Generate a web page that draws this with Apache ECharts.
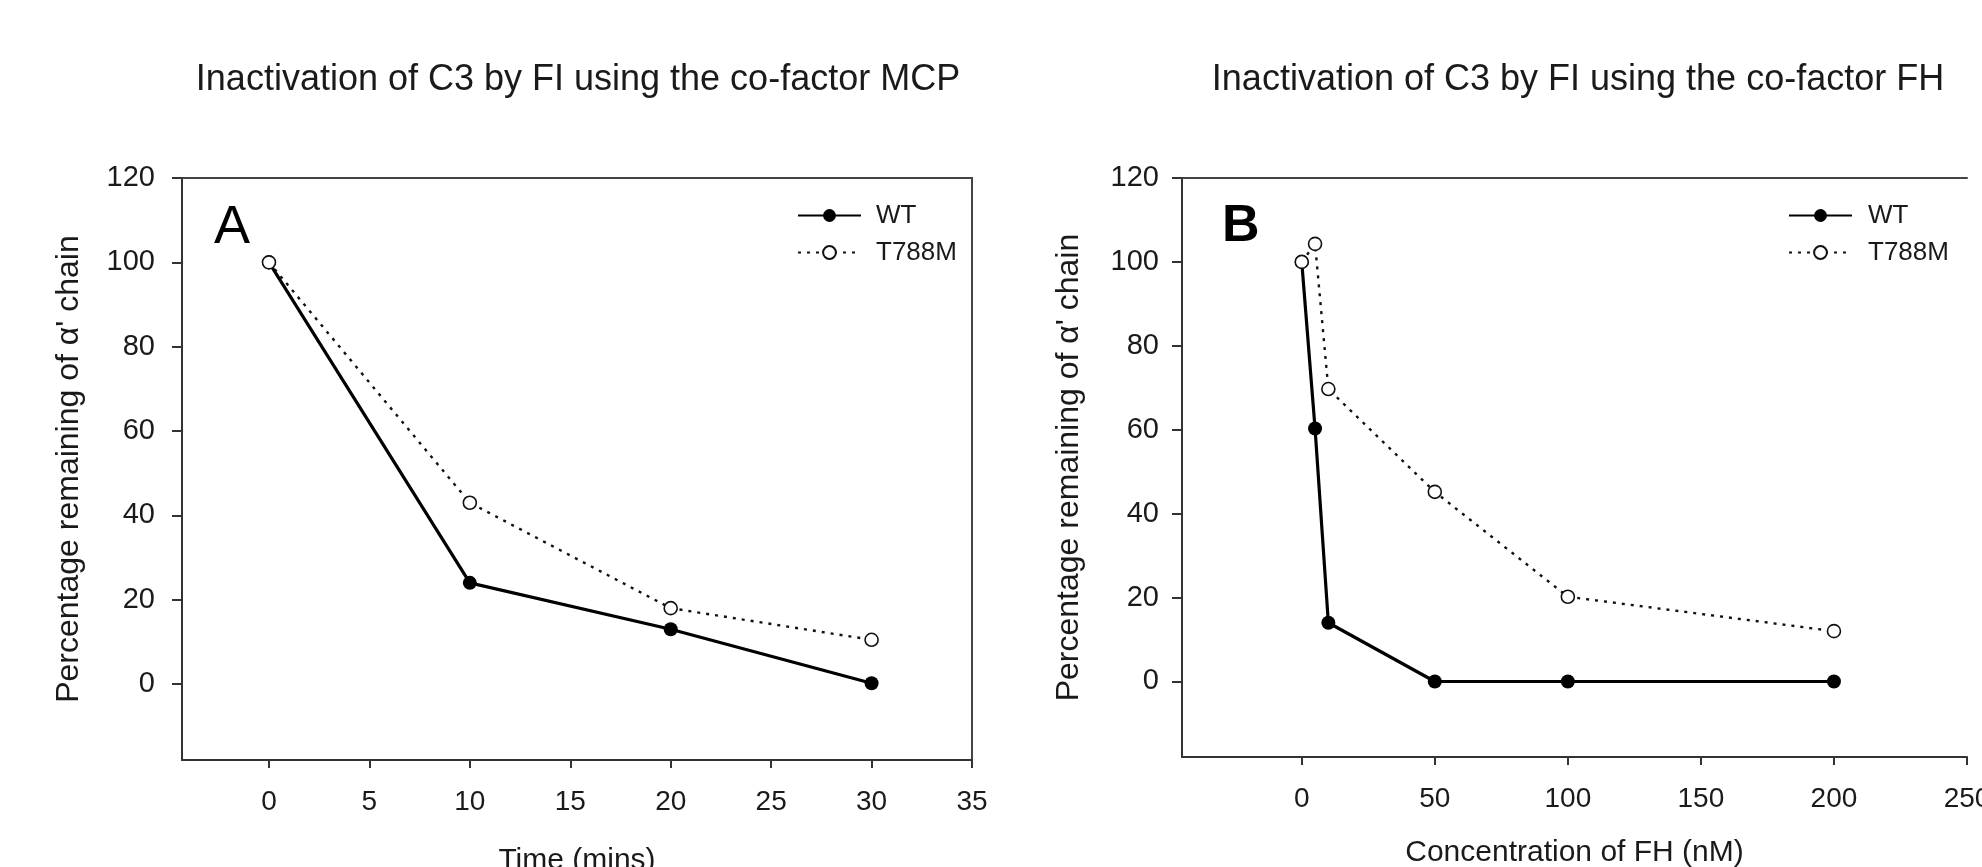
<!DOCTYPE html>
<html>
<head>
<meta charset="utf-8">
<script src="https://cdn.jsdelivr.net/npm/echarts@6/dist/echarts.min.js"></script>
<style>
  html, body { margin: 0; padding: 0; background: #fff; }
  #main { width: 1982px; height: 867px; }
</style>
</head>
<body>
<div id="main"></div>
<script>
// panel A: co-factor MCP, over time
var timeMins = [0, 10, 20, 30];
var wtMcp = [100, 24, 13, 0.2];
var t788mMcp = [100, 43, 18, 10.5];

// panel B: co-factor FH, over concentration
var fhConc = [0, 5, 10, 50, 100, 200];
var wtFh = [100, 60.3, 14, 0, 0, 0];
var t788mFh = [100, 104.3, 69.7, 45.2, 20.2, 12];

// tick labels
var timeTicks = [0, 5, 10, 15, 20, 25, 30, 35];
var concTicks = [0, 50, 100, 150, 200, 250];
var pctTicks = [0, 20, 40, 60, 80, 100, 120];

var seriesNames = ['WT', 'T788M'];
var yName = "Percentage remaining of \u03b1' chain";

var FONT = "'Liberation Sans', Arial, sans-serif";
var chart = echarts.init(document.getElementById('main'), null, { renderer: 'canvas' });

function pairs(xs, ys) {
  return xs.map(function (x, i) { return [x, ys[i]]; });
}

function bottomAxis(grid, min, max, ticks, name, gap) {
  return {
    type: 'value', gridIndex: grid, min: min, max: max,
    axisLine: { show: true, onZero: false, lineStyle: { color: '#333', width: 2 } },
    axisTick: { show: true, length: 8, customValues: ticks, lineStyle: { color: '#333', width: 2 } },
    axisLabel: { customValues: ticks, margin: 28, fontSize: 28, color: '#1a1a1a', fontFamily: FONT },
    splitLine: { show: false },
    name: name, nameLocation: 'middle', nameGap: gap,
    nameTextStyle: { fontSize: 30, color: '#1a1a1a', fontFamily: FONT }
  };
}

function topAxis(grid, min, max) {
  return {
    type: 'value', gridIndex: grid, min: min, max: max, position: 'top',
    axisLine: { show: true, onZero: false, lineStyle: { color: '#444', width: 2 } },
    axisTick: { show: false }, axisLabel: { show: false }, splitLine: { show: false }
  };
}

function leftAxis(grid, margin) {
  return {
    type: 'value', gridIndex: grid, min: -18, max: 120,
    axisLine: { show: true, onZero: false, lineStyle: { color: '#333', width: 2 } },
    axisTick: { show: true, length: 10, customValues: pctTicks, lineStyle: { color: '#333', width: 2 } },
    axisLabel: { customValues: pctTicks, margin: margin, fontSize: 29, color: '#1a1a1a', fontFamily: FONT },
    splitLine: { show: false },
    name: yName, nameLocation: 'middle', nameGap: 97,
    nameTextStyle: { fontSize: 32, color: '#1a1a1a', fontFamily: FONT }
  };
}

function wtSeries(xi, yi, data) {
  return {
    name: 'WT', type: 'line', xAxisIndex: xi, yAxisIndex: yi, data: data,
    symbol: 'circle', symbolSize: 14, showAllSymbol: true,
    lineStyle: { color: '#000', width: 3.2 },
    itemStyle: { color: '#000' }
  };
}

function mutSeries(xi, yi, data) {
  return {
    name: 'T788M', type: 'line', xAxisIndex: xi, yAxisIndex: yi, data: data,
    symbol: 'circle', symbolSize: 13, showAllSymbol: true,
    lineStyle: { color: '#111', width: 2.4, type: [3, 6] },
    itemStyle: { color: '#fff', borderColor: '#111', borderWidth: 1.6 }
  };
}

function legendAt(left, pad) {
  return {
    left: left, top: 197, orient: 'vertical',
    data: seriesNames, itemWidth: 63, itemHeight: 16, itemGap: 10,
    textStyle: { fontSize: 26, color: '#1a1a1a', fontFamily: FONT, padding: [0, 0, 0, pad], lineHeight: 27 }
  };
}

var option = {
  animation: false,
  backgroundColor: '#fff',
  grid: [
    { left: 182, top: 178, width: 790, height: 582, containLabel: false, outerBoundsMode: 'none' },
    { left: 1182, top: 178, width: 785, height: 579, containLabel: false, outerBoundsMode: 'none' }
  ],
  xAxis: [
    bottomAxis(0, -4.33, 35, timeTicks, 'Time (mins)', 86),
    topAxis(0, -4.33, 35),
    bottomAxis(1, -45, 250, concTicks, 'Concentration of FH (nM)', 81),
    topAxis(1, -45, 250)
  ],
  yAxis: [
    leftAxis(0, 27),
    {
      type: 'value', gridIndex: 0, min: -18, max: 120, position: 'right',
      axisLine: { show: true, onZero: false, lineStyle: { color: '#444', width: 2 } },
      axisTick: { show: false }, axisLabel: { show: false }, splitLine: { show: false }
    },
    leftAxis(1, 23)
  ],
  legend: [legendAt(792, 10), legendAt(1783, 11)],
  series: [
    wtSeries(0, 0, pairs(timeMins, wtMcp)),
    mutSeries(0, 0, pairs(timeMins, t788mMcp)),
    wtSeries(2, 2, pairs(fhConc, wtFh)),
    mutSeries(2, 2, pairs(fhConc, t788mFh))
  ],
  graphic: [
    { type: 'text', x: 578, y: 80, style: { text: 'Inactivation of C3 by FI using the co-factor MCP', font: '36px ' + FONT, fill: '#1a1a1a', textAlign: 'center', textVerticalAlign: 'middle' } },
    { type: 'text', x: 1578, y: 80, style: { text: 'Inactivation of C3 by FI using the co-factor FH', font: '36px ' + FONT, fill: '#1a1a1a', textAlign: 'center', textVerticalAlign: 'middle' } },
    { type: 'text', x: 214, y: 201, style: { text: 'A', font: '54px ' + FONT, fill: '#000' } },
    { type: 'text', x: 1222, y: 201, style: { text: 'B', font: 'bold 52px ' + FONT, fill: '#000' } }
  ]
};

chart.setOption(option);
</script>
</body>
</html>
